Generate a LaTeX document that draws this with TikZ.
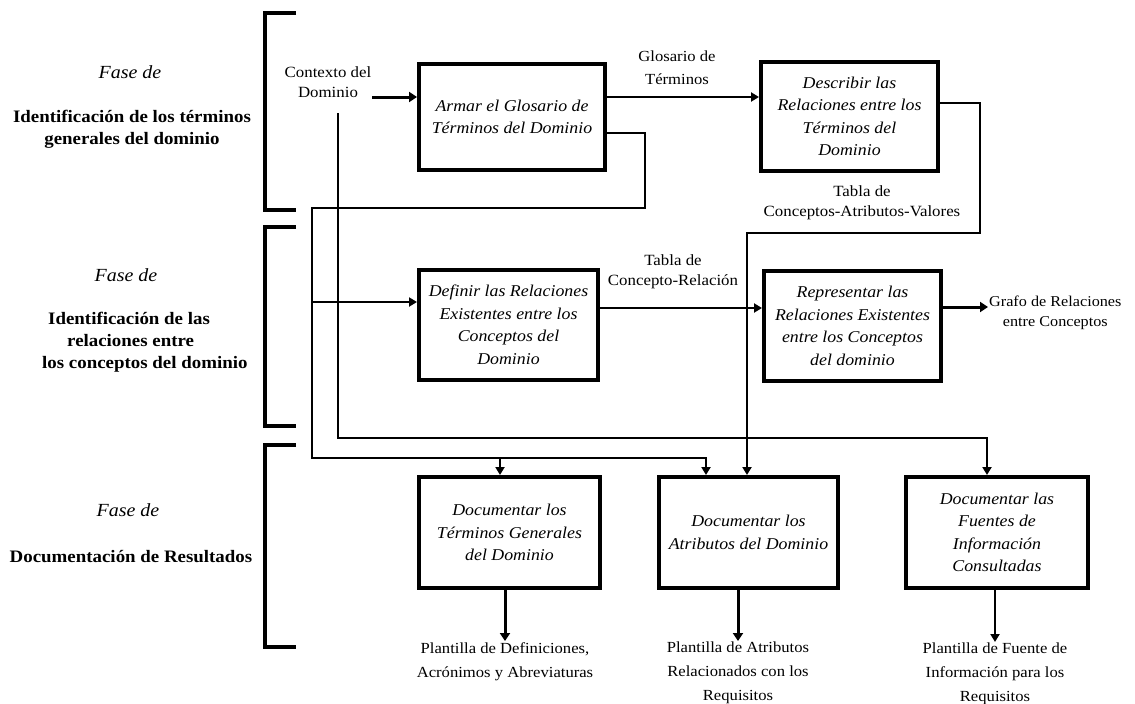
\documentclass[tikz,border=0pt]{standalone}
\usepackage{fontspec}
\setmainfont[FakeStretch=1.08]{Liberation Serif}
\usetikzlibrary{arrows.meta}
\tikzset{
  box/.style={draw, line width=4pt, inner sep=2pt, align=center,
    font=\fontsize{16.5}{22.5}\selectfont\itshape},
  lbl/.style={align=center, inner sep=1pt, font=\fontsize{15.6}{20}\selectfont},
  plab/.style={align=center, inner sep=1pt, anchor=north, font=\fontsize{15.4}{24}\selectfont},
  fase/.style={inner sep=0pt, font=\fontsize{18.5}{20}\selectfont\itshape},
  phase/.style={align=center, inner sep=0pt, font=\fontsize{17.5}{22}\selectfont\bfseries},
  brk/.style={line width=4.5pt, line join=miter},
  conn/.style={line width=2pt},
  arr/.style={line width=2pt, -{Triangle[length=8pt,width=9pt]}},
  tarr/.style={line width=3pt, -{Triangle[length=8pt,width=10pt]}},
}
\begin{document}
\begin{tikzpicture}[x=1pt,y=-1pt]
\useasboundingbox[fill=white] (0,0) rectangle (1135,704);

% brackets
\draw[brk] (296,13) -- (265,13) -- (265,210) -- (296,210);
\draw[brk] (296,227) -- (265,227) -- (265,426) -- (296,426);
\draw[brk] (296,445) -- (265,445) -- (265,647) -- (296,647);

% phase labels
\node[fase] (f1) at (130,72) {Fase de};
\node[phase] (p1l) at (132,129) {Identificación de los términos\\generales del dominio};
\node[fase] (f2) at (126,275) {Fase de};
\node[phase, align=left, anchor=west] (p2l) at (42,342) {\hspace*{6pt}Identificación de las\\\hspace*{25pt}relaciones entre\\los conceptos del dominio};
\node[fase] (f3) at (128,510) {Fase de};
\node[phase] (p3l) at (131,557) {Documentación de Resultados};

% process boxes
\node[box, minimum width=186pt, minimum height=106pt] (b1) at (512,117) {Armar el Glosario de\\Términos del Dominio};
\node[box, minimum width=177pt, minimum height=109pt] (b2) at (849.5,116.5) {Describir las\\Relaciones entre los\\Términos del\\Dominio};
\node[box, minimum width=179pt, minimum height=110pt] (def) at (508.5,325) {Definir las Relaciones\\Existentes entre los\\Conceptos del\\Dominio};
\node[box, minimum width=177pt, minimum height=110pt] (rep) at (852.5,326) {Representar las\\Relaciones Existentes\\entre los Conceptos\\del dominio};
\node[box, minimum width=181pt, minimum height=111pt] (tg) at (509.5,532.5) {Documentar los\\Términos Generales\\del Dominio};
\node[box, minimum width=179pt, minimum height=111pt] (atr) at (748.5,532.5) {Documentar los\\Atributos del Dominio};
\node[box, minimum width=182pt, minimum height=111pt] (fue) at (997,532.5) {Documentar las\\Fuentes de\\Información\\Consultadas};

% text labels
\node[lbl] (ctx) at (328,82) {Contexto del\\Dominio};
\node[lbl, font=\fontsize{15.4}{23}\selectfont] (glo) at (677,68) {Glosario de\\Términos};
\node[lbl] (tcav) at (862,203) {Tabla de\\Conceptos-Atributos-Valores};
\node[lbl] (tcr) at (673,272) {Tabla de\\Concepto-Relación};
\node[lbl, font=\fontsize{15}{20}\selectfont, anchor=west] (gra) at (988,313) {Grafo de Relaciones\\entre Conceptos};
\node[plab] (o1) at (505,641) {Plantilla de Definiciones,\\Acrónimos y Abreviaturas};
\node[plab] (o2) at (738,641) {Plantilla de Atributos\\Relacionados con los\\Requisitos};
\node[plab] (o3) at (995,642) {Plantilla de Fuente de\\Información para los\\Requisitos};

% junction coordinates
\coordinate (r1) at (645,208);
\coordinate (l1) at (312,208);
\coordinate (l2) at (312,458);
\coordinate (k0) at (338,113);
\coordinate (k1) at (338,438);
\coordinate (q1) at (980,233);
\coordinate (b1in) at ([yshift=20pt]b1.west);
\coordinate (b1out) at ([yshift=20pt]b1.east);
\coordinate (defin) at ([yshift=23pt]def.west);

% connectors
\draw[tarr] (ctx.east |- b1in) -- (b1in);
\draw[arr] (b1out) -- (b1out -| b2.west);
\draw[arr] ([yshift=-16pt]b1.east) -| (r1) -- (l1) -- (l2) -| ([xshift=-42.5pt]atr.north);
\draw[arr] ([xshift=-9.5pt]tg.north |- l2) -- ([xshift=-9.5pt]tg.north);
\draw[arr] (l1 |- defin) -- (defin);
\draw[arr] (k0) -- (k1) -| ([xshift=-10pt]fue.north);
\draw[arr] ([yshift=13.5pt]b2.east) -| (q1) -| ([xshift=-1.5pt]atr.north);
\draw[arr] ([yshift=17pt]def.east) -- ([yshift=17pt]def.east -| rep.west);
\draw[tarr] ([yshift=19pt]rep.east) -- ([yshift=19pt]rep.east -| gra.west);
\draw[tarr] (tg.south -| o1.north) -- (o1.north);
\draw[tarr] (atr.south -| o2.north) -- (o2.north);
\draw[arr] (fue.south -| o3.north) -- (o3.north);
\end{tikzpicture}
\end{document}
